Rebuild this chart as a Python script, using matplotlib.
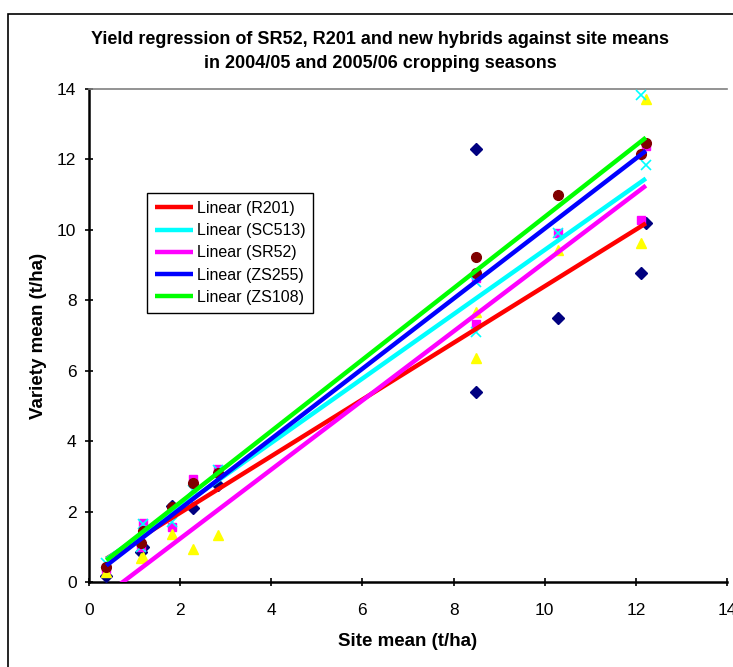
import numpy as np
import matplotlib
matplotlib.use("Agg")
import matplotlib.pyplot as plt
from matplotlib.patches import Rectangle

plt.rcParams['font.family'] = ['Liberation Sans', 'DejaVu Sans']

# site means (t/ha), 2004/05 and 2005/06 seasons
site_mean = [0.38, 1.15, 1.18, 1.82, 2.28, 2.82, 8.50, 8.50, 10.30, 12.12, 12.22]

# variety means (t/ha) at each site
r201 = [0.17, 0.86, 1.00, 2.16, 2.11, 2.75, 12.29, 5.39, 7.51, 8.77, 10.19]
sc513 = [0.37, 1.00, 1.67, 1.55, 2.92, 3.20, 8.63, 7.33, 9.90, 10.28, 12.38]
sr52 = [0.29, 0.67, 0.70, 1.36, 0.93, 1.33, 7.68, 6.35, 9.43, 9.62, 13.71]
zs255 = [0.55, 1.00, 1.66, 1.71, 2.61, 3.18, 8.53, 7.11, 9.90, 13.83, 11.84]
zs108 = [0.44, 1.10, 1.45, 2.14, 2.80, 3.10, 9.24, 8.77, 10.99, 12.16, 12.46]

names = ['R201', 'SC513', 'SR52', 'ZS255', 'ZS108']
values = [r201, sc513, sr52, zs255, zs108]

# excel style markers for the points, custom colours for the trendlines
mk = [('D', '#000080', 6), ('s', '#FF00FF', 6), ('^', '#FFFF00', 7),
      ('x', '#00FFFF', 7), ('o', '#800000', 7)]
line_cols = ['#FF0000', '#00FFFF', '#FF00FF', '#0000FF', '#00FF00']

fig = plt.figure(figsize=(7.33, 6.67), dpi=100)
ax = fig.add_axes([89/733, 1-582/667, (727-89)/733, (582-89)/667])

x = np.array(site_mean)
for (m, c, s), y in zip(mk, values):
	if m == 'x':
		ax.plot(x, y, m, color=c, ms=s, mew=1.2, zorder=3)
	else:
		ax.plot(x, y, m, color=c, mec=c, ms=s, zorder=3)

xs = np.array([x.min(), x.max()])
for name, y, c in zip(names, values, line_cols):
	k, b = np.polyfit(x, y, 1)
	ax.plot(xs, k*xs + b, '-', color=c, lw=3.2, label='Linear (' + name + ')',
	        solid_capstyle='butt', zorder=4)

ax.set_xlim(0, 14)
ax.set_ylim(0, 14)
ax.set_xticks(range(0, 15, 2))
ax.set_yticks(range(0, 15, 2))
ax.tick_params(direction='inout', length=6, width=1.2, labelsize=12.5)
ax.tick_params(axis='x', pad=12)
ax.tick_params(axis='y', pad=6)
for sp in ['left', 'bottom']:
	ax.spines[sp].set_linewidth(1.8)
ax.spines['top'].set_color('#808080')
ax.spines['top'].set_linewidth(1.2)
ax.spines['right'].set_visible(False)

ax.set_xlabel('Site mean (t/ha)', fontsize=13.5, fontweight='bold', labelpad=11)
ax.set_ylabel('Variety mean (t/ha)', fontsize=13.5, fontweight='bold', labelpad=7)

fig.text(380/733, 1-40/667, 'Yield regression of SR52, R201 and new hybrids against site means',
         ha='center', va='center', fontsize=13, fontweight='bold')
fig.text(380/733, 1-63/667, 'in 2004/05 and 2005/06 cropping seasons',
         ha='center', va='center', fontsize=13, fontweight='bold')

leg = ax.legend(loc='upper left', bbox_to_anchor=((147-89)/638, (582-193)/493),
                borderaxespad=0, fontsize=11.5, handlelength=2.4, handletextpad=0.2,
                labelspacing=0.45, fancybox=False, framealpha=1, edgecolor='black',
                borderpad=0.5)
leg.get_frame().set_linewidth(1.0)

# outer chart border
fig.patches.append(Rectangle((8/733, -0.1), 1.2, 1-14/667+0.1, transform=fig.transFigure,
                             fill=False, edgecolor='black', lw=1.2))

fig.savefig('out.png', dpi=100)
